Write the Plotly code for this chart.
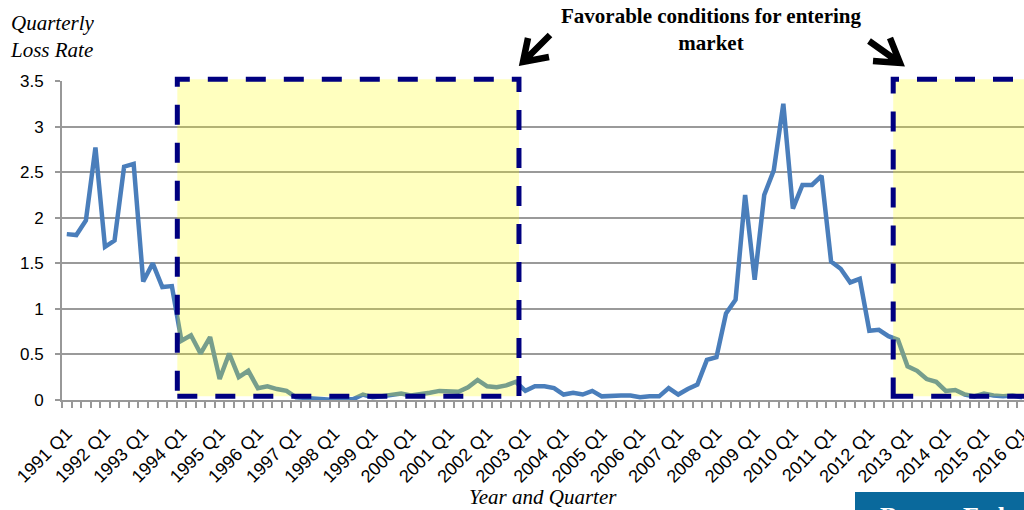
import plotly.graph_objects as go

# Quarterly loss rate, 1991 Q1 .. 2016 Q1
years = list(range(1991, 2017))
quarters = [f"{y} Q{q}" for y in years for q in (1, 2, 3, 4)][:101]
loss_rate = [
    1.82, 1.81, 1.97, 2.77, 1.68, 1.75, 2.56, 2.59,   # 1991-1992
    1.30, 1.50, 1.24, 1.25, 0.65, 0.71, 0.51, 0.69,   # 1993-1994
    0.23, 0.51, 0.25, 0.32, 0.13, 0.15, 0.12, 0.10,   # 1995-1996
    0.03, 0.02, 0.01, 0.01, 0.00, 0.00, 0.01, 0.06,   # 1997-1998
    0.03, 0.04, 0.05, 0.07, 0.05, 0.06, 0.08, 0.10,   # 1999-2000
    0.09, 0.09, 0.14, 0.22, 0.15, 0.14, 0.16, 0.20,   # 2001-2002
    0.10, 0.15, 0.15, 0.13, 0.06, 0.08, 0.06, 0.10,   # 2003-2004
    0.04, 0.05, 0.05, 0.05, 0.03, 0.04, 0.04, 0.13,   # 2005-2006
    0.06, 0.12, 0.17, 0.44, 0.47, 0.95, 1.10, 2.25,   # 2007-2008
    1.32, 2.25, 2.52, 3.25, 2.10, 2.36, 2.36, 2.46,   # 2009-2010
    1.52, 1.44, 1.29, 1.33, 0.76, 0.77, 0.70, 0.66,   # 2011-2012
    0.37, 0.32, 0.23, 0.20, 0.10, 0.11, 0.06, 0.04,   # 2013-2014
    0.07, 0.05, 0.04, 0.05, 0.03,                     # 2015-2016 Q1
]
tick_labels = [
    "1991 Q1", "1992 Q1", "1993 Q1", "1994 Q1", "1995 Q1", "1996 Q1",
    "1997 Q1", "1998 Q1", "1999 Q1", "2000 Q1", "2001 Q1", "2002 Q1",
    "2003 Q1", "2004 Q1", "2005 Q1", "2006 Q1", "2007 Q1", "2008 Q1",
    "2009 Q1", "2010 Q1", "2011 Q1", "2012 Q1", "2013 Q1", "2014 Q1",
    "2015 Q1", "2016 Q1",
]
y_ticks = [0, 0.5, 1, 1.5, 2, 2.5, 3, 3.5]

# Highlighted "favorable" windows, in quarter-index units
windows = [(11.57, 47.33), (86.5, 106.0)]
window_y = (0.04, 3.52)

x_idx = list(range(len(quarters)))
x_range = [-0.5, 100.19]
y_range = [0, 3.5]

W, H = 1024, 510
M_L, M_R, M_T, M_B = 62, 0, 81, 110
plot_w = W - M_L - M_R
plot_h = H - M_T - M_B


def px_x(px):
    return (px - M_L) / plot_w


def px_y(py):
    return (H - M_B - py) / plot_h


def dx(v):
    return (v - x_range[0]) / (x_range[1] - x_range[0])


def dy(v):
    return (v - y_range[0]) / (y_range[1] - y_range[0])


fig = go.Figure()
fig.add_trace(go.Scatter(
    x=x_idx, y=loss_rate, mode="lines",
    line=dict(color="#4A7EBB", width=4.5),
    hoverinfo="skip", showlegend=False,
))

shapes = []
for x0, x1 in windows:
    shapes.append(dict(
        type="rect", xref="paper", yref="paper",
        x0=dx(x0), x1=dx(x1), y0=dy(window_y[0]), y1=dy(window_y[1]),
        fillcolor="rgba(255,255,0,0.25)",
        line=dict(color="#000080", width=5, dash="20px,18px"),
        layer="above",
    ))


def arrow_path(tail, tip, barb1, barb2):
    return "M {:.5f},{:.5f} L {:.5f},{:.5f} M {:.5f},{:.5f} L {:.5f},{:.5f} L {:.5f},{:.5f}".format(
        px_x(tail[0]), px_y(tail[1]), px_x(tip[0]), px_y(tip[1]),
        px_x(barb1[0]), px_y(barb1[1]), px_x(tip[0]), px_y(tip[1]),
        px_x(barb2[0]), px_y(barb2[1]),
    )


shapes.append(dict(type="path", xref="paper", yref="paper",
                   path=arrow_path((550, 35), (523, 62), (528, 38), (549, 57)),
                   line=dict(color="black", width=6.5), layer="above"))
shapes.append(dict(type="path", xref="paper", yref="paper",
                   path=arrow_path((869, 41), (900, 63), (890, 38), (873, 61)),
                   line=dict(color="black", width=6.5), layer="above"))

# corner badge
shapes.append(dict(type="rect", xref="paper", yref="paper",
                   x0=px_x(855), x1=px_x(1030), y0=px_y(520), y1=px_y(492),
                   fillcolor="#0A699C", line=dict(width=0), layer="above"))

annotations = [
    dict(text="<i>Quarterly<br>Loss Rate</i>", xref="paper", yref="paper",
         x=px_x(8), y=px_y(9), xanchor="left", yanchor="top", align="left",
         showarrow=False,
         font=dict(family="Liberation Serif", size=21, color="black")),
    dict(text="<b>Favorable conditions for entering<br>market</b>",
         xref="paper", yref="paper", x=px_x(711), y=px_y(30),
         xanchor="center", yanchor="middle", align="center", showarrow=False,
         font=dict(family="Liberation Serif", size=21, color="black")),
    dict(text="<i>Year and Quarter</i>", xref="paper", yref="paper",
         x=px_x(543), y=px_y(497), xanchor="center", yanchor="middle",
         showarrow=False,
         font=dict(family="Liberation Serif", size=21, color="black")),
    dict(text="<b>Boston Fed</b>", xref="paper", yref="paper",
         x=px_x(878), y=px_y(500), xanchor="left", yanchor="top",
         showarrow=False,
         font=dict(family="Liberation Serif", size=26, color="white")),
]

fig.update_layout(
    width=W, height=H,
    margin=dict(l=M_L, r=M_R, t=M_T, b=M_B, pad=0, autoexpand=False),
    paper_bgcolor="white", plot_bgcolor="white",
    shapes=shapes, annotations=annotations,
    xaxis=dict(
        range=x_range, showgrid=False, zeroline=False, automargin=False,
        tickmode="array",
        tickvals=[quarters.index(t) for t in tick_labels],
        ticktext=tick_labels, tickangle=-45, ticks="", ticklen=0,
        ticklabelstandoff=14, ticklabeloverflow="allow",
        tickfont=dict(family="Liberation Sans", size=18, color="black"),
        showline=True, linecolor="#989898", linewidth=2,
        minor=dict(ticks="outside", tick0=-0.5, dtick=1, ticklen=6,
                   tickcolor="#989898", tickwidth=1.5, showgrid=False),
    ),
    yaxis=dict(
        range=y_range, tickmode="array", tickvals=y_ticks, automargin=False,
        ticktext=[f"{v:g}" for v in y_ticks],
        showgrid=True, gridcolor="#9a9a9a", gridwidth=1.5, zeroline=False,
        showline=True, linecolor="#989898", linewidth=2,
        ticks="outside", ticklen=5, tickcolor="#989898", tickwidth=1.5,
        ticklabelstandoff=8,
        tickfont=dict(family="Liberation Sans", size=17, color="black"),
    ),
)

fig.write_html("out.html")
